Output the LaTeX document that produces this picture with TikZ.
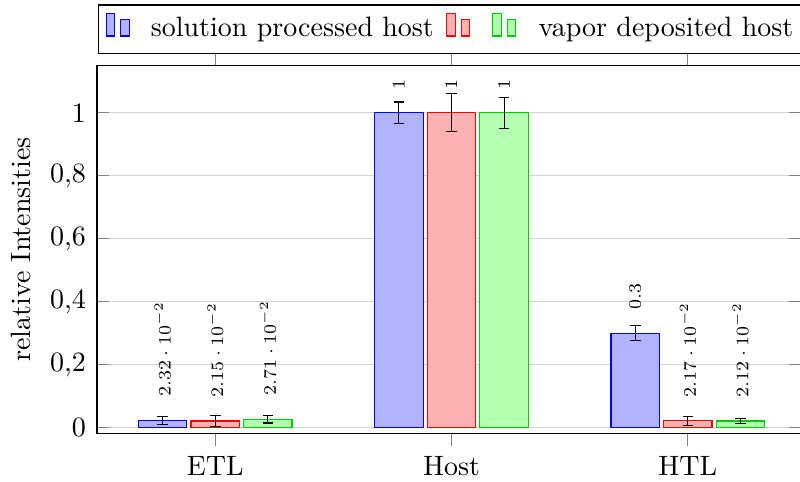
\documentclass[tikz,border=0pt]{standalone}
\usepackage{graphicx}
\begin{document}
\begin{tikzpicture}[x=0.35714pt,y=-0.35714pt]
\tikzset{
  gridline/.style={draw=black!17, line width=0.4pt},
  tickmark/.style={draw=black!50, line width=0.4pt},
  frame/.style={draw=black, line width=0.4pt},
  bluebar/.style={draw=blue, fill=blue!30, line width=0.4pt},
  redbar/.style={draw=red, fill=red!30, line width=0.4pt},
  greenbar/.style={draw=green!80!black, fill=green!30, line width=0.4pt},
  errbar/.style={draw=black, line width=0.4pt},
  barlabel/.style={rotate=90, anchor=west, inner sep=0pt, font=\scriptsize},
  ticklabel/.style={inner sep=0pt},
}
\clip (0,0) rectangle (800,481);
% grid and y ticks
\foreach \v/\t in {0/0,0.2/{0,2},0.4/{0,4},0.6/{0,6},0.8/{0,8},1/1}{
  \draw[gridline] (97,{427.7-315*\v}) -- (801,{427.7-315*\v});
  \draw[tickmark] (97,{427.7-315*\v}) -- (109,{427.7-315*\v});
  \draw[tickmark] (801,{427.7-315*\v}) -- (789,{427.7-315*\v});
  \node[ticklabel, anchor=east] (yl\v) at (86.5,{427.7-315*\v}) {\t};
}
% x ticks
\foreach \x/\n in {215.2/ETL,451.5/Host,687.8/HTL}{
  \draw[tickmark] (\x,433.5) -- (\x,445.5);
  \draw[tickmark] (\x,65.5) -- (\x,53.5);
  \node[ticklabel, anchor=base] (xl\n) at (\x,475.5) {\n};
}
% bars
\newcommand{\mkbar}[6]{%
  \draw[#3] ({#1-24.2},427.7) rectangle ({#1+24.2},{427.7-315*#2});
  \draw[errbar] (#1,{427.7-315*(#2+#4)}) -- (#1,{427.7-315*(#2-#4)});
  \draw[errbar] ({#1-5.3},{427.7-315*(#2+#4)}) -- ({#1+5.3},{427.7-315*(#2+#4)});
  \draw[errbar] ({#1-5.3},{427.7-315*(#2-#4)}) -- ({#1+5.3},{427.7-315*(#2-#4)});
  \node[barlabel] (#5) at (#1,{427.7-315*#2-23}) {\scalebox{0.9}{#6}};
}
\mkbar{162.6}{0.0232}{bluebar}{0.013}{la}{$2.32\cdot10^{-2}$}
\mkbar{215.2}{0.0215}{redbar}{0.017}{lb}{$2.15\cdot10^{-2}$}
\mkbar{267.8}{0.0271}{greenbar}{0.012}{lc}{$2.71\cdot10^{-2}$}
\mkbar{398.9}{1}{bluebar}{0.034}{ld}{$1$}
\mkbar{451.5}{1}{redbar}{0.061}{le}{$1$}
\mkbar{504.1}{1}{greenbar}{0.049}{lf}{$1$}
\mkbar{635.2}{0.3}{bluebar}{0.024}{lg}{$0.3$}
\mkbar{687.8}{0.0217}{redbar}{0.015}{lh}{$2.17\cdot10^{-2}$}
\mkbar{740.4}{0.0212}{greenbar}{0.008}{li}{$2.12\cdot10^{-2}$}
% axis frame
\draw[frame] (97,65.5) rectangle (801,433.5);
% y label
\node[rotate=90, inner sep=0pt] (ylab) at (21,249.5) {relative Intensities};
% legend
\draw[frame] (98.5,5) rectangle (820,53.5);
\draw[bluebar] (106.2,36) rectangle (114.6,13.6);
\draw[bluebar] (120.8,36) rectangle (129.2,19.2);
\node[inner sep=0pt, anchor=base west] (lega) at (150.3,36.3) {solution processed host};
\draw[redbar] (446.8,36) rectangle (455.2,13.6);
\draw[redbar] (461.3,36) rectangle (469.7,19.2);
\draw[greenbar] (492.8,36) rectangle (501.2,13.6);
\draw[greenbar] (507.3,36) rectangle (515.7,19.2);
\node[inner sep=0pt, anchor=base west] (legc) at (538,36.3) {vapor deposited host};
\end{tikzpicture}
\end{document}
